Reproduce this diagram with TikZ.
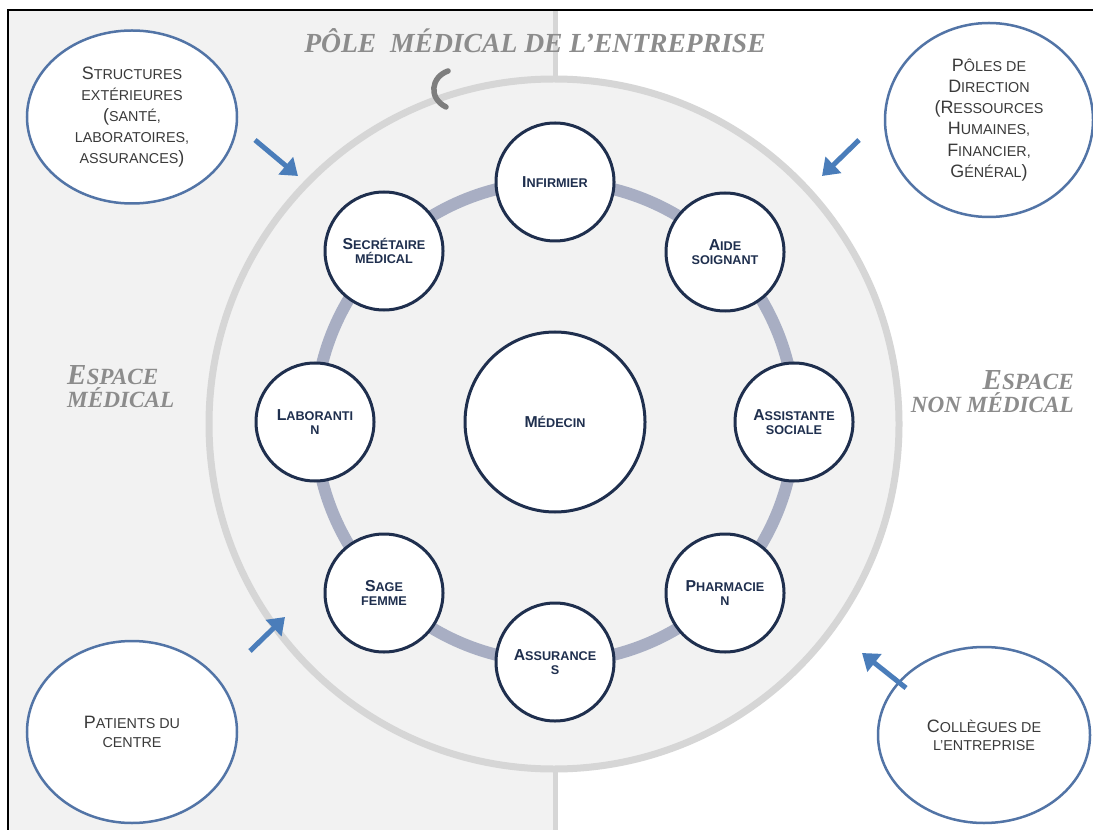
\documentclass[tikz,border=0pt]{standalone}
\usepackage{fontspec}
\setmainfont{Liberation Sans}
\newfontfamily\titrefont{Liberation Serif}
\usetikzlibrary{shapes.geometric,arrows.meta}

\definecolor{fondgris}{HTML}{F2F2F2}
\definecolor{traitgris}{HTML}{D6D6D6}
\definecolor{anneau}{HTML}{A8AEC3}
\definecolor{marine}{HTML}{1F2F4E}
\definecolor{bleuext}{HTML}{5274A6}
\definecolor{bleufleche}{HTML}{4A7DBA}
\definecolor{titregris}{HTML}{8C8C8C}
\definecolor{texteext}{HTML}{3A3A3A}

% fausses petites capitales
\makeatletter
\newdimen\petcapdim
\newcommand\petcap[1]{{\petcapdim=\f@size pt\fontsize{0.8\petcapdim}{\f@baselineskip}\selectfont #1}}
\makeatother

\tikzset{
  poste/.style={circle, draw=marine, line width=0.6mm, fill=white, minimum size=23.6mm,
    inner sep=0pt, align=center, text=marine, font=\fontsize{9}{7.8}\selectfont\bfseries},
  externe/.style={ellipse, draw=bleuext, line width=0.5mm, fill=white, inner sep=0pt,
    align=center, text=texteext, font=\fontsize{10.2}{12}\selectfont},
  fleche/.style={draw=bleufleche, line width=1mm, -{Triangle[length=3.2mm,width=4.4mm]}},
  espace/.style={text=titregris, font=\titrefont\fontsize{16.5}{13}\selectfont\bfseries\itshape}
}

\begin{document}
\begin{tikzpicture}[x=0.2mm,y=-0.2mm]
			%%%%% START %%%%%
			\useasboundingbox (0,0) rectangle (1093,830);
			
			\fill[white] (0,0) rectangle (1093,830);
			\fill[fondgris] (8,10) rectangle (555,830);
			\draw[traitgris, line width=1mm] (555,10) -- (555,830);
			
			\draw[traitgris, line width=1.4mm, fill=fondgris] (554,424) circle (345);
			
			\draw[black, line width=0.4mm] (8,830) -- (8,10) -- (1093,10);
			
			\node[espace, font=\titrefont\fontsize{15.7}{18}\selectfont\bfseries\itshape] (titre) at (535,41) {PÔLE\ \ MÉDICAL DE L’ENTREPRISE};
			\node[espace, anchor=west, align=left] (espmed) at (61,387) {E\petcap{SPACE}\\\petcap{MÉDICAL}};
			\node[espace, anchor=east, align=right] (espnonmed) at (1080,392) {E\petcap{SPACE}\\\petcap{NON MÉDICAL}};
			
			\draw[titregris!90!black, line width=1.1mm, line cap=round] (448,71) .. controls (431,77) and (428,98) .. (446,107);
			
			\draw[anneau, line width=2.4mm] (555,422) circle (240);
			
			\node[poste, minimum size=36mm] (medecin) at (555,422) {M\petcap{ÉDECIN}};
			\node[poste] (infirmier) at (555,182) {I\petcap{NFIRMIER}};
			\node[poste] (aide) at (725,252) {A\petcap{IDE}\\\petcap{SOIGNANT}};
			\node[poste] (assistante) at (794,422) {A\petcap{SSISTANTE}\\\petcap{SOCIALE}};
			\node[poste] (pharmacien) at (725,593) {P\petcap{HARMACIE}\\\petcap{N}};
			\node[poste] (assurances) at (555,662) {A\petcap{SSURANCE}\\\petcap{S}};
			\node[poste] (sagefemme) at (384,593) {S\petcap{AGE}\\\petcap{FEMME}};
			\node[poste] (laborantin) at (315,422) {L\petcap{ABORANTI}\\\petcap{N}};
			\node[poste] (secretaire) at (384,251) {S\petcap{ECRÉTAIRE}\\\petcap{MÉDICAL}};
			
			\node[externe, minimum width=42mm, minimum height=34.6mm] (structures) at (132,117)
				{S\petcap{TRUCTURES}\\\petcap{EXTÉRIEURES}\\(\petcap{SANTÉ,}\\\petcap{LABORATOIRES,}\\\petcap{ASSURANCES})};
			\node[externe, minimum width=41.6mm, minimum height=38.8mm] (poles) at (989,120)
				{P\petcap{ÔLES DE}\\D\petcap{IRECTION}\\(R\petcap{ESSOURCES}\\H\petcap{UMAINES,}\\F\petcap{INANCIER,}\\G\petcap{ÉNÉRAL})};
			\node[externe, minimum width=42mm, minimum height=36.4mm, font=\fontsize{10.2}{10.4}\selectfont] (patients) at (132,732)
				{P\petcap{ATIENTS DU}\\\petcap{CENTRE}};
			\node[externe, minimum width=42.4mm, minimum height=35.2mm, font=\fontsize{10.2}{10.4}\selectfont] (collegues) at (984,735)
				{C\petcap{OLLÈGUES DE}\\\petcap{L’ENTREPRISE}};
			
			\coordinate (s1) at (255,140); \coordinate (s2) at (298,176);
			\coordinate (p1) at (859,140); \coordinate (p2) at (822,176);
			\coordinate (c1) at (250,651); \coordinate (c2) at (285,617);
			\coordinate (e1) at (906,688); \coordinate (e2) at (862,653);
			\draw[fleche] (s1) -- (s2);
			\draw[fleche] (p1) -- (p2);
			\draw[fleche] (c1) -- (c2);
			\draw[fleche] (e1) -- (e2);
			
			%%%%% END %%%%%
\end{tikzpicture}
\end{document}
